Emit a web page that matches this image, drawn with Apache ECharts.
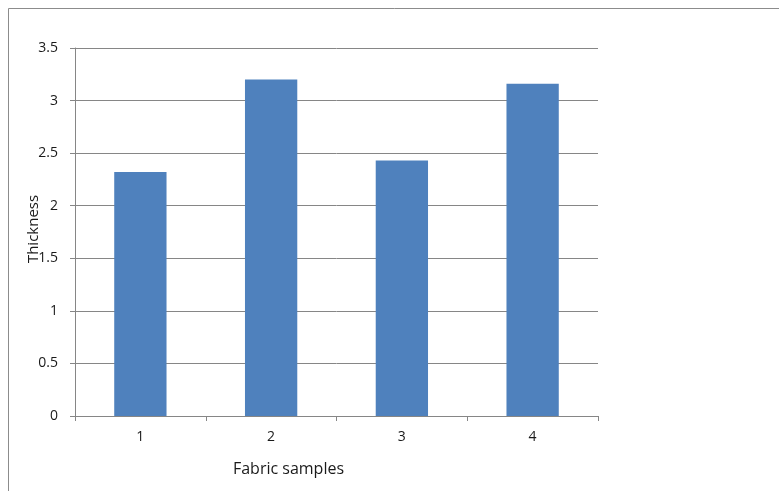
<!DOCTYPE html>
<html>
<head>
<meta charset="utf-8">
<script src="https://cdn.jsdelivr.net/npm/echarts@6/dist/echarts.min.js"></script>
<style>
  html, body { margin: 0; padding: 0; background: #fff; }
  #chart { width: 779px; height: 491px; }
</style>
</head>
<body>
<div id="chart"></div>
<script>
// Fabric thickness per sample
const categories = ['1', '2', '3', '4'];
const thickness = [2.32, 3.2, 2.43, 3.16];
const yTicks = { min: 0, max: 3.5, step: 0.5 };

const chart = echarts.init(document.getElementById('chart'));
const font = '"Open Sans", Lato, sans-serif';

chart.setOption({
  animation: false,
  backgroundColor: '#fff',
  graphic: [{
    type: 'rect',
    shape: { x: 8.5, y: 8.5, width: 900, height: 700 },
    style: { fill: 'none', stroke: '#8c8c8c', lineWidth: 1 },
    silent: true
  }],
  grid: { left: 75, right: 181, top: 48, bottom: 75 },
  xAxis: {
    type: 'category',
    data: categories,
    name: 'Fabric samples',
    nameLocation: 'middle',
    nameGap: 45,
    nameMoveOverlap: false,
    nameTextStyle: { fontFamily: font, fontSize: 16, color: '#1a1a1a', padding: [0, 96, 0, 0] },
    axisLine: { lineStyle: { color: '#868686', width: 1 } },
    axisTick: { show: true, length: 5, alignWithLabel: false, lineStyle: { color: '#868686' } },
    axisLabel: { margin: 14, fontFamily: font, fontSize: 14, color: '#1a1a1a' }
  },
  yAxis: {
    type: 'value',
    min: yTicks.min,
    max: yTicks.max,
    interval: yTicks.step,
    name: 'Thickness',
    nameLocation: 'middle',
    nameGap: 34,
    nameRotate: 90,
    nameMoveOverlap: false,
    nameTextStyle: { fontFamily: font, fontSize: 15, color: '#1a1a1a', padding: [0, 0, 0, 6] },
    axisLine: { show: true, lineStyle: { color: '#868686', width: 1 } },
    axisTick: { show: true, length: 5, lineStyle: { color: '#868686' } },
    axisLabel: { margin: 17, fontFamily: font, fontSize: 14, color: '#1a1a1a' },
    splitLine: { show: true, lineStyle: { color: '#868686', width: 1 } }
  },
  series: [{
    type: 'bar',
    data: thickness,
    barCategoryGap: '60%',
    itemStyle: { color: '#4F81BD' }
  }]
});
</script>
</body>
</html>
